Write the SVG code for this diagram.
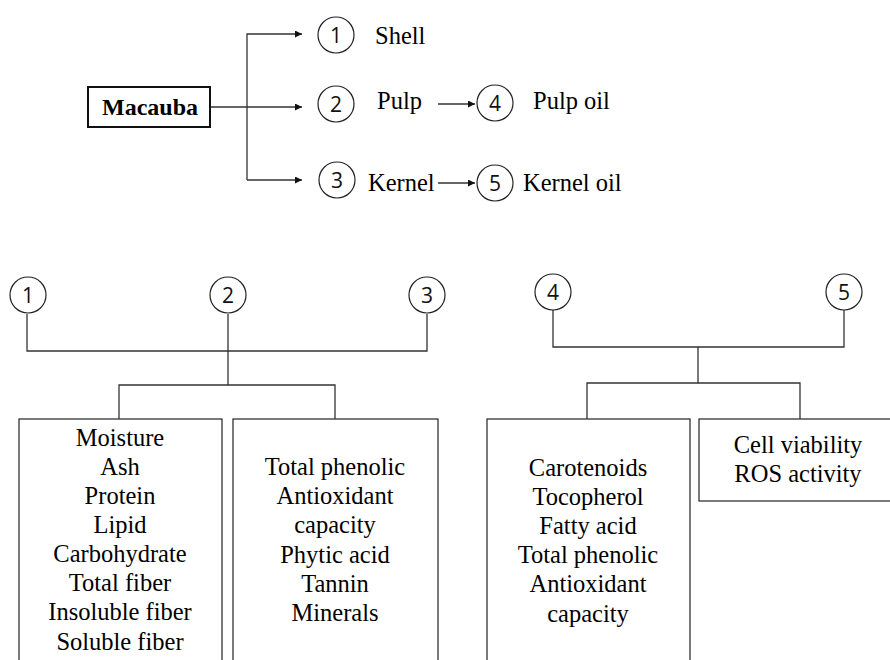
<svg xmlns="http://www.w3.org/2000/svg" width="890" height="660" viewBox="0 0 890 660">
<defs>
<style>
.t{font-family:"Liberation Serif","Times New Roman",serif;font-size:24.5px;fill:#000}
.b{font-family:"Liberation Serif","Times New Roman",serif;font-size:24px;font-weight:bold;fill:#000}
.n{font-family:"Open Sans","Liberation Sans",sans-serif;font-size:21px;fill:#111;text-anchor:middle}
.c{fill:#fff;stroke:#222;stroke-width:1.2}
.box{fill:#fff;stroke:#333;stroke-width:1.3}
.ln{fill:none;stroke:#333;stroke-width:1.3}
.m{text-anchor:middle}
</style>
<marker id="ah" viewBox="0 0 10 10" refX="10" refY="5" markerWidth="8" markerHeight="7" markerUnits="userSpaceOnUse" orient="auto">
<path d="M0,0 L10,5 L0,10 z" fill="#111"/>
</marker>
</defs>
<rect width="890" height="660" fill="#fff"/>
<g id="connectors">
<path class="ln" d="M210,107 H302" marker-end="url(#ah)"/>
<path class="ln" d="M247,180 V34 H302" marker-end="url(#ah)"/>
<path class="ln" d="M247,180 H302" marker-end="url(#ah)"/>
<path class="ln" d="M438,104 H475" marker-end="url(#ah)"/>
<path class="ln" d="M438,183 H475" marker-end="url(#ah)"/>
<path class="ln" d="M27,314 V351 H427 V314 M228,314 V385 M119,419 V385 H335 V419"/>
<path class="ln" d="M553,310 V347 H844 V310 M698,347 V383 M587,419 V383 H800 V419"/>
</g>
<g id="macauba"><rect x="88" y="87" width="122" height="40" fill="#fff" stroke="#111" stroke-width="2"/><text class="b m" x="150" y="115">Macauba</text></g>
<g id="n1"><circle class="c" cx="336" cy="35" r="18"/><text class="n" x="336" y="42.5">1</text><text class="t" x="375" y="44">Shell</text></g>
<g id="n2"><circle class="c" cx="336" cy="104" r="18"/><text class="n" x="336" y="111.5">2</text><text class="t" x="377" y="109">Pulp</text></g>
<g id="n3"><circle class="c" cx="337" cy="180" r="18"/><text class="n" x="337" y="187.5">3</text><text class="t" x="368" y="191">Kernel</text></g>
<g id="n4"><circle class="c" cx="495" cy="103" r="18"/><text class="n" x="495" y="110.5">4</text><text class="t" x="533" y="109">Pulp oil</text></g>
<g id="n5"><circle class="c" cx="495" cy="183" r="18"/><text class="n" x="495" y="190.5">5</text><text class="t" x="523" y="191">Kernel oil</text></g>
<g id="b1"><circle class="c" cx="28" cy="295" r="18"/><text class="n" x="28" y="302.5">1</text></g>
<g id="b2"><circle class="c" cx="228" cy="295" r="18"/><text class="n" x="228" y="302.5">2</text></g>
<g id="b3"><circle class="c" cx="427" cy="295" r="18"/><text class="n" x="427" y="302.5">3</text></g>
<g id="b4"><circle class="c" cx="553" cy="292" r="18"/><text class="n" x="553" y="299.5">4</text></g>
<g id="b5"><circle class="c" cx="844" cy="292" r="18"/><text class="n" x="844" y="299.5">5</text></g>
<g id="box-proximate"><rect class="box" x="19" y="419" width="203" height="250"/>
<text class="t m" x="120"><tspan x="120" y="446">Moisture</tspan><tspan x="120" y="475">Ash</tspan><tspan x="120" y="504">Protein</tspan><tspan x="120" y="533">Lipid</tspan><tspan x="120" y="562">Carbohydrate</tspan><tspan x="120" y="591">Total fiber</tspan><tspan x="120" y="620">Insoluble fiber</tspan><tspan x="120" y="650">Soluble fiber</tspan></text></g>
<g id="box-bioactive"><rect class="box" x="233" y="419" width="205" height="250"/>
<text class="t m" x="335"><tspan x="335" y="475">Total phenolic</tspan><tspan x="335" y="504">Antioxidant</tspan><tspan x="335" y="533">capacity</tspan><tspan x="335" y="563">Phytic acid</tspan><tspan x="335" y="592">Tannin</tspan><tspan x="335" y="621">Minerals</tspan></text></g>
<g id="box-oil"><rect class="box" x="487" y="419" width="203" height="250"/>
<text class="t m" x="588"><tspan x="588" y="476">Carotenoids</tspan><tspan x="588" y="505">Tocopherol</tspan><tspan x="588" y="534">Fatty acid</tspan><tspan x="588" y="563">Total phenolic</tspan><tspan x="588" y="592">Antioxidant</tspan><tspan x="588" y="622">capacity</tspan></text></g>
<g id="box-cell"><rect class="box" x="699" y="419" width="200" height="82"/>
<text class="t m" x="798"><tspan x="798" y="453">Cell viability</tspan><tspan x="798" y="482">ROS activity</tspan></text></g>
</svg>
